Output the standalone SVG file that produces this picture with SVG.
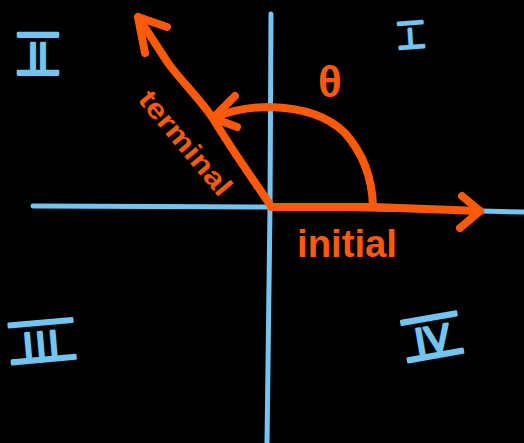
<svg xmlns="http://www.w3.org/2000/svg" width="524" height="443" viewBox="0 0 524 443">
<style>
.axis{fill:none;stroke:#72c5f1;stroke-width:5;stroke-linecap:round;stroke-linejoin:round}
.ray{fill:none;stroke:#fc5a0b;stroke-width:8;stroke-linecap:round;stroke-linejoin:round}
.num{fill:#72c5f1;stroke:#72c5f1;stroke-width:2.6;stroke-linejoin:round;font-family:"Liberation Sans",Arial,sans-serif;text-decoration:underline overline;white-space:pre}
.lbl{fill:#fc5a0b;font-family:"Liberation Sans",Arial,sans-serif;font-weight:bold}
</style>
<rect width="524" height="443" fill="#000"/>
<g id="axes">
<path class="axis" d="M33,206 C100,207 200,206 270,207 L480,211 L524,212"/>
<path class="axis" d="M271,14 L270,207 L267,443"/>
</g>
<g id="quadrant-I"><text class="num" x="411" y="44" font-size="22" letter-spacing="2" text-anchor="middle" transform="rotate(-4 410 34)"> I </text></g>
<g id="quadrant-II"><text class="num" x="38" y="69" font-size="36" text-anchor="middle" xml:space="preserve"> II </text></g>
<g id="quadrant-III"><text class="num" x="42" y="356" font-size="35" letter-spacing="3" text-anchor="middle" transform="rotate(-5 41 340)"> III </text></g>
<g id="quadrant-IV"><text class="num" x="432" y="352" font-size="37" text-anchor="middle" xml:space="preserve" transform="rotate(-10 432 336)"> IV </text></g>
<g id="connectors">
<path class="ray" d="M271,207 L373,207 L480,211"/>
<path class="ray" d="M462,196 L480,211 L460,228"/>
<path class="ray" d="M271,206 L243,165 C228,143 220,130 212,117 C198,97 182,82 168,63 L138,17"/>
<path class="ray" d="M167,27 L138,17 L145,53"/>
<path class="ray" d="M373,206 C372,175 360,150 345,133 C330,118 305,108 270,107 C250,107 232,110 213,118"/>
<path class="ray" d="M235,96 L213,118 L237,127"/>
</g>
<g id="label-theta"><text class="lbl" x="330" y="97" font-size="44" text-anchor="middle" font-weight="normal">θ</text></g>
<g id="label-terminal"><text class="lbl" x="0" y="0" font-size="28" textLength="128" lengthAdjust="spacingAndGlyphs" transform="translate(137,100) rotate(50)">terminal</text></g>
<g id="label-initial"><text class="lbl" x="297" y="257" font-size="38" textLength="100" lengthAdjust="spacingAndGlyphs" font-weight="normal">initial</text></g>
</svg>
